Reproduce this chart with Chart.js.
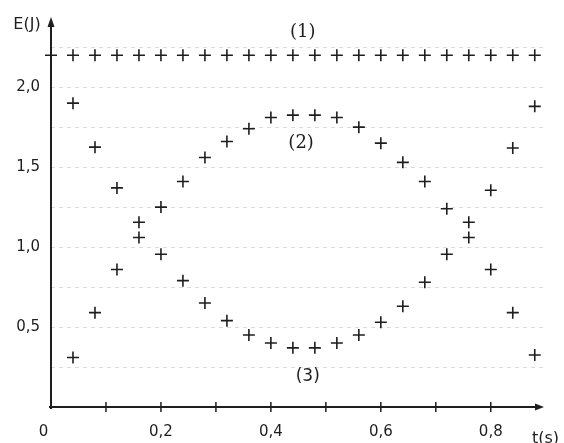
<!DOCTYPE html>
<html><head><meta charset="utf-8">
<script src="https://cdn.jsdelivr.net/npm/chart.js@4.4.1/dist/chart.umd.min.js"></script>
<style>html,body{margin:0;padding:0;background:#fff;overflow:hidden;} #wrap{width:564px;height:443px;position:relative;}</style>
</head><body><div id="wrap"><canvas id="c"></canvas></div>
<script>
// ---- data ----
const times = [0, 0.04, 0.08, 0.12, 0.16, 0.20, 0.24, 0.28, 0.32, 0.36, 0.40, 0.44,
               0.48, 0.52, 0.56, 0.60, 0.64, 0.68, 0.72, 0.76, 0.80, 0.84, 0.88];
const energy1 = [2.2, 2.2, 2.2, 2.2, 2.2, 2.2, 2.2, 2.2, 2.2, 2.2, 2.2, 2.2,
                 2.2, 2.2, 2.2, 2.2, 2.2, 2.2, 2.2, 2.2, 2.2, 2.2, 2.2];
const energy2 = [null, 0.31, 0.59, 0.86, 1.06, 1.25, 1.41, 1.56, 1.66, 1.74, 1.81, 1.825,
                 1.825, 1.81, 1.75, 1.65, 1.53, 1.41, 1.24, 1.06, 0.86, 0.59, 0.325];
const energy3 = [null, 1.90, 1.625, 1.37, 1.155, 0.955, 0.79, 0.65, 0.54, 0.45, 0.40, 0.37,
                 0.37, 0.40, 0.45, 0.53, 0.63, 0.78, 0.955, 1.155, 1.355, 1.62, 1.88];
const seriesNames = ['(1)', '(2)', '(3)'];
const yTickValues = [0.25, 0.5, 0.75, 1.0, 1.25, 1.5, 1.75, 2.0, 2.25];
const yLabelValues = [0.5, 1.0, 1.5, 2.0];
const xLabelValues = [0, 0.2, 0.4, 0.6, 0.8];
const xMinorTicks = [0.1, 0.2, 0.3, 0.4, 0.5, 0.6, 0.7, 0.8];
const axisTitleY = 'E(J)';
const axisTitleX = 't(s)';

function toPoints(vals) {
  const out = [];
  vals.forEach((v, i) => { if (v !== null) out.push({x: times[i], y: v}); });
  return out;
}
function fmt(v) { return (Math.abs(v) < 1e-9) ? '0\u2002\u2002' : v.toFixed(1).replace('.', ','); }

const ink = '#1e1e1e';
const crossStyle = {pointStyle: 'cross', pointRadius: 6, pointBorderWidth: 1.6,
  pointBorderColor: ink, pointBackgroundColor: ink, showLine: false, clip: false};

const decor = {
  id: 'decor',
  beforeDatasetsDraw(chart) {
    const {ctx, chartArea: a, scales: {x, y}} = chart;
    ctx.save();
    ctx.strokeStyle = ink; ctx.fillStyle = ink; ctx.lineWidth = 2;
    // y axis
    ctx.beginPath(); ctx.moveTo(a.left, a.bottom + 2); ctx.lineTo(a.left, a.top + 4); ctx.stroke();
    ctx.beginPath(); ctx.moveTo(a.left, a.top - 3); ctx.lineTo(a.left - 3.5, a.top + 7); ctx.lineTo(a.left + 3.5, a.top + 7); ctx.closePath(); ctx.fill();
    // x axis
    ctx.beginPath(); ctx.moveTo(a.left - 2, a.bottom); ctx.lineTo(a.right - 4, a.bottom); ctx.stroke();
    ctx.beginPath(); ctx.moveTo(a.right + 1, a.bottom); ctx.lineTo(a.right - 8, a.bottom - 3.5); ctx.lineTo(a.right - 8, a.bottom + 3.5); ctx.closePath(); ctx.fill();
    // x tick marks
    ctx.lineWidth = 1.5;
    xMinorTicks.forEach(v => {
      const px = x.getPixelForValue(v);
      ctx.beginPath(); ctx.moveTo(px, a.bottom - 5); ctx.lineTo(px, a.bottom + 5); ctx.stroke();
    });
    ctx.restore();
  },
  afterDraw(chart) {
    const {ctx, chartArea: a, scales: {x, y}} = chart;
    ctx.save();
    ctx.fillStyle = ink; ctx.textBaseline = 'middle';
    ctx.textAlign = 'center';
    ctx.font = '16px "DejaVu Sans"';
    ctx.fillText(axisTitleY, a.left - 24, a.top + 5);
    ctx.textAlign = 'left';
    ctx.fillText(axisTitleX, a.right - 11, a.bottom + 32);
    ctx.textAlign = 'center';
    ctx.font = '18px "DejaVu Serif"';
    ctx.fillText(seriesNames[0], x.getPixelForValue(0.458), y.getPixelForValue(2.34));
    ctx.fillText(seriesNames[1], x.getPixelForValue(0.455), y.getPixelForValue(1.65));
    ctx.font = '17px "DejaVu Sans"';
    ctx.fillText(seriesNames[2], x.getPixelForValue(0.467), y.getPixelForValue(0.19));
    ctx.restore();
  }
};

new Chart(document.getElementById('c'), {
  type: 'scatter',
  data: {datasets: [
    Object.assign({label: seriesNames[0], data: toPoints(energy1)}, crossStyle),
    Object.assign({label: seriesNames[1], data: toPoints(energy2)}, crossStyle),
    Object.assign({label: seriesNames[2], data: toPoints(energy3)}, crossStyle)
  ]},
  options: {
    responsive: true, maintainAspectRatio: false, animation: false,
    layout: {padding: {top: 20, right: 21, left: 0, bottom: 0}},
    plugins: {legend: {display: false}, tooltip: {enabled: false}},
    scales: {
      x: {
        type: 'linear', min: 0, max: 0.895,
        afterBuildTicks: s => { s.ticks = xLabelValues.map(v => ({value: v})); },
        afterFit: s => { s.height = 36; },
        grid: {display: false, drawTicks: false},
        border: {display: false},
        ticks: {padding: 16, color: ink, font: {family: 'DejaVu Sans', size: 15}, maxRotation: 0, autoSkip: false,
                callback: v => fmt(v)}
      },
      y: {
        type: 'linear', min: 0, max: 2.42,
        afterBuildTicks: s => { s.ticks = yTickValues.map(v => ({value: v})); },
        afterFit: s => { s.width = 51; },
        grid: {color: '#dadada', lineWidth: 1, drawTicks: false},
        border: {display: false, dash: [4, 4]},
        ticks: {padding: 11, color: ink, font: {family: 'DejaVu Sans', size: 15}, autoSkip: false,
                callback: v => (yLabelValues.some(l => Math.abs(l - v) < 1e-9) ? fmt(v) : '')}
      }
    }
  },
  plugins: [decor]
});
</script>
</body></html>
